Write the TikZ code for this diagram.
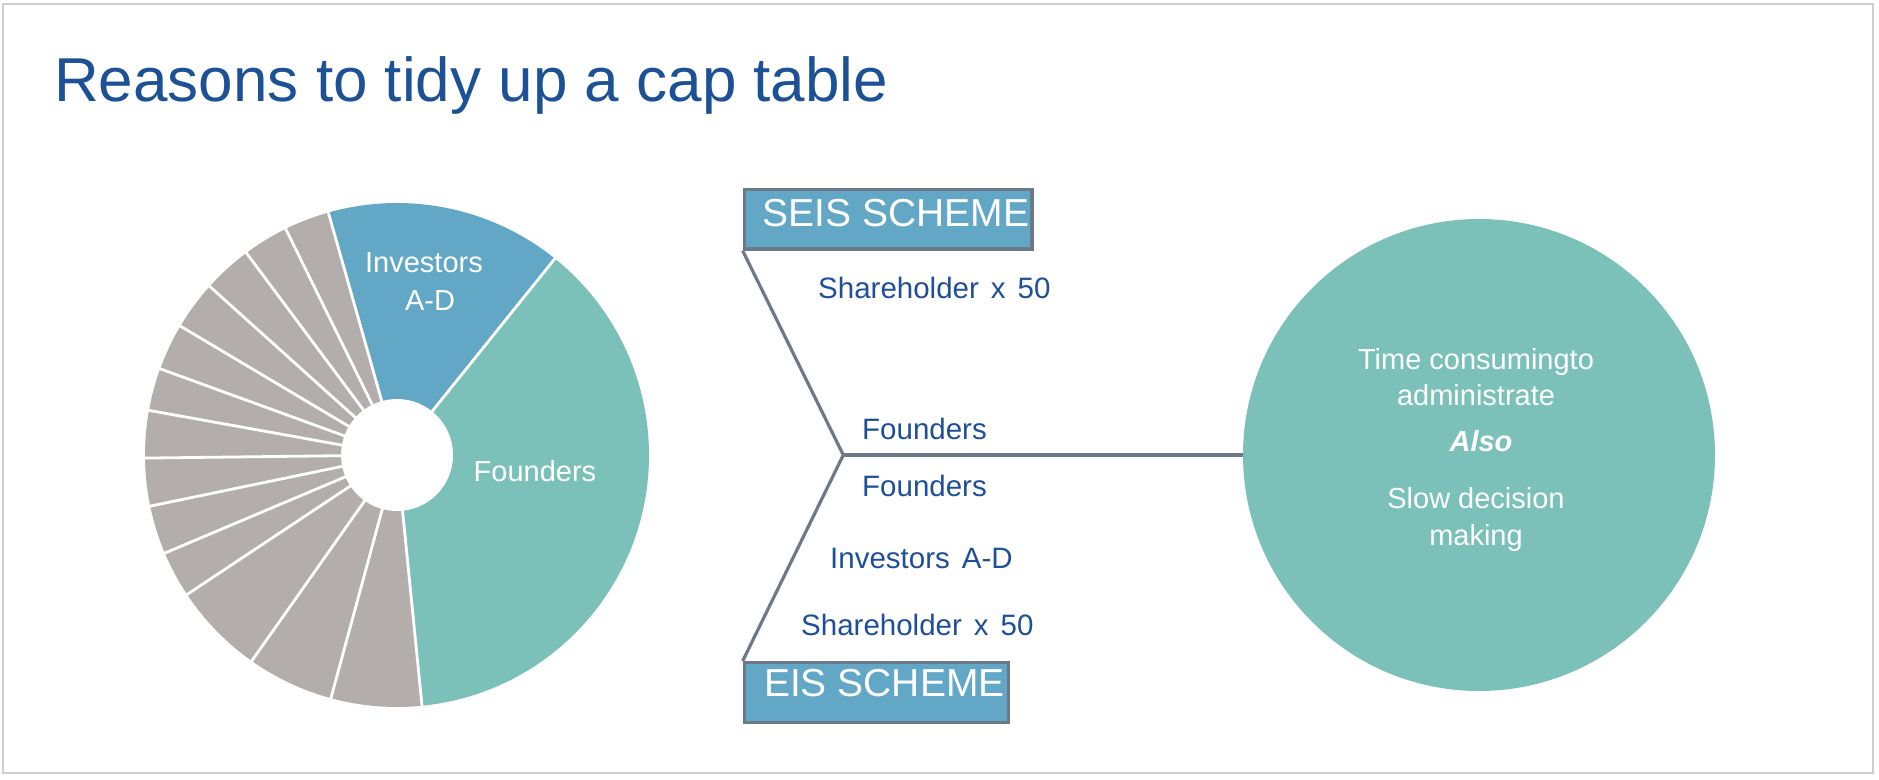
\documentclass[tikz,border=0pt]{standalone}
\usepackage{fontspec}
\setmainfont{Liberation Sans}
\definecolor{teal}{HTML}{7BC1B9}
\definecolor{boxblue}{HTML}{63A7C6}
\definecolor{piegray}{HTML}{B3AEAC}
\definecolor{titleblue}{HTML}{1C5196}
\definecolor{lblblue}{HTML}{1E4F98}
\definecolor{linegray}{HTML}{6D7889}
\definecolor{framegray}{HTML}{CBCED3}
\newcommand{\wsp}{\hspace{12pt}}
\begin{document}
\begin{tikzpicture}[x=1pt,y=-1pt,
  frame/.style={draw=framegray,line width=1.8pt},
  sep/.style={draw=white,line width=2.8pt},
  conn/.style={draw=linegray,line width=3.2pt},
  schemebox/.style={draw=linegray,fill=boxblue,line width=3.3pt,inner sep=0pt,text=white,
    font=\fontsize{39}{46}\selectfont,text height=28pt},
  pielbl/.style={anchor=base,inner sep=0pt,text=white,font=\fontsize{29}{35}\selectfont},
  lbl/.style={anchor=base west,inner sep=0pt,text=lblblue,
    font=\fontsize{29.5}{35}\selectfont},
  ctext/.style={anchor=base,inner sep=0pt,text=white,font=\fontsize{29}{35}\selectfont}]
\useasboundingbox (0,0) rectangle (1879,779);
\draw[frame] (3,4) rectangle (1873,773);

\node[anchor=base west,inner sep=0pt,text=titleblue,font=\fontsize{62}{74}\selectfont] (title) at (54,101) {Reasons to tidy up a cap table};

% pie chart
\begin{scope}[shift={(397,455)},yscale=-1]
  \fill[teal] (0,0) -- (-84.3:252) arc[start angle=-84.3,end angle=51.2,radius=252] -- cycle;
  \fill[boxblue] (0,0) -- (51.2:252) arc[start angle=51.2,end angle=105.8,radius=252] -- cycle;
  \foreach \a/\b in {105.8/116.2,116.2/126.7,126.7/138.0,138.0/149.25,149.25/160.0,160.0/169.8,169.8/180.7,180.7/191.7,191.7/202.9,202.9/213.6,213.6/234.8,234.8/254.8,254.8/275.7}
    \fill[piegray] (0,0) -- (\a:252) arc[start angle=\a,end angle=\b,radius=252] -- cycle;
  \foreach \a in {51.2,105.8,116.2,126.7,138.0,149.25,160.0,169.8,180.7,191.7,202.9,213.6,234.8,254.8,275.7}
    \draw[sep] (0,0) -- (\a:253);
  \fill[white] (0,0) circle[radius=56];
\end{scope}
\node[pielbl] (inv1) at (424,272) {Investors};
\node[pielbl] (inv2) at (430,310) {A-D};
\node[pielbl] (fnd) at (535,481) {Founders};

% scheme boxes
\node[schemebox,minimum width=287.7pt,minimum height=59.7pt,text depth=13pt,anchor=north west] (seis) at (742.65,187.65) {\hspace*{16pt}SEIS SCHEME};
\node[schemebox,minimum width=264pt,minimum height=60pt,text depth=20pt,anchor=north west] (eis) at (742.65,661) {\hspace*{16pt}EIS SCHEME};

% labels
\node[lbl] (sh1) at (818,298) {Shareholder\wsp x\wsp 50};
\node[lbl] (f1) at (862,439) {Founders};
\node[lbl] (f2) at (862,496) {Founders};
\node[lbl] (ia) at (830,568) {Investors\wsp A-D};
\node[lbl] (sh2) at (801,635) {Shareholder\wsp x\wsp 50};

% circle
\node[circle,fill=teal,minimum size=472pt,inner sep=0pt] (reason) at (1479,455) {};
\node[ctext] (c1) at (1476,369) {Time consumingto};
\node[ctext] (c2) at (1476,405) {administrate};
\node[ctext,font=\fontsize{29}{35}\selectfont\bfseries\itshape] (c3) at (1481,451) {Also};
\node[ctext] (c4) at (1476,508) {Slow decision};
\node[ctext] (c5) at (1476,545) {making};

% connectors
\coordinate (v) at (843.3,455);
\draw[conn] (seis.south west) -- (v) -- (eis.north west);
\draw[conn] (v) -- (reason.west);
\end{tikzpicture}
\end{document}
